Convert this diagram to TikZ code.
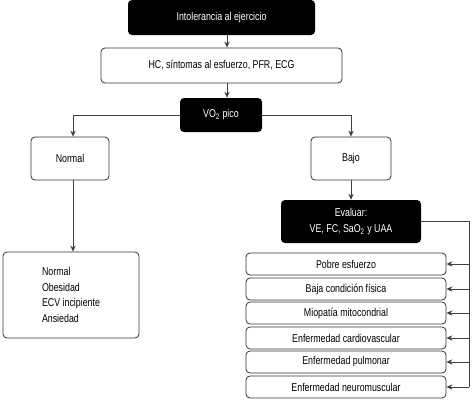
\documentclass[tikz,border=0pt]{standalone}
\usepackage{fontspec}
\setmainfont{Liberation Sans}[FakeStretch=0.78]
\usetikzlibrary{arrows.meta,calc}
\begin{document}
\begin{tikzpicture}[x=0.75pt,y=-0.75pt,
  every node/.style={font=\fontsize{8.5}{11.6}\selectfont, inner sep=0pt},
  blackbox/.style={fill=black, text=white, rounded corners=3pt, align=center},
  whitebox/.style={draw=black!80, line width=0.6pt, fill=white, rounded corners=3pt, align=center},
  conn/.style={draw=black!75, line width=0.65pt},
  arr/.style={conn, -{Stealth[length=4.5pt,width=4pt]}}]
\path[use as bounding box, fill=white] (0,0) rectangle (474,400);
\node[blackbox, minimum width=140.25pt, minimum height=26.25pt] (top) at (221.5,17.5) {Intolerancia al ejercicio};
\node[whitebox, minimum width=180.75pt, minimum height=26.25pt] (hc) at (221.5,65.5) {HC, síntomas al esfuerzo, PFR, ECG};
\node[blackbox, minimum width=61.5pt, minimum height=25.5pt] (vo) at (221,115) {VO\textsubscript{2} pico};
\node[whitebox, minimum width=58.5pt, minimum height=32.25pt] (normal) at (70,158.5) {Normal};
\node[whitebox, minimum width=60pt, minimum height=32.25pt] (bajo) at (351,158.5) {Bajo};
\node[blackbox, minimum width=105pt, minimum height=32.25pt] (ev) at (351,221.5) {Evaluar:\\VE, FC, SaO\textsubscript{2} y UAA};
\node[whitebox, minimum width=102pt, minimum height=64.5pt, align=left] (list) at (71,295) {Normal\\Obesidad\\ECV incipiente\\Ansiedad};
\foreach \n/\y/\t in {i1/264/Pobre esfuerzo, i2/289/Baja condición física, i3/313/Miopatía mitocondrial, i4/338/Enfermedad cardiovascular, i5/362/Enfermedad pulmonar, i6/387/Enfermedad neuromuscular}
  \node[whitebox, minimum width=150pt, minimum height=16.5pt] (\n) at (346,\y) {\t};
\coordinate (ax) at (227,0);
\coordinate (rx) at (469,0);
\draw[arr] (top.south -| ax) -- (hc.north -| ax);
\draw[arr] (hc.south -| ax) -- (vo.north -| ax);
\draw[arr] (vo.west) -| ($(normal.north)+(3,0)$);
\draw[arr] (vo.east) -| (bajo.north);
\draw[arr] ($(normal.south)+(3,0)$) -- ($(normal.south |- list.north)+(3,0)$);
\draw[arr] (bajo.south) -- (ev.north);
\draw[conn] (ev.east) -- (ev.east -| rx) -- (rx |- i6.east);
\foreach \n in {i1,i2,i3,i4,i5,i6}
  \draw[arr] (rx |- \n.east) -- (\n.east);
\end{tikzpicture}
\end{document}
